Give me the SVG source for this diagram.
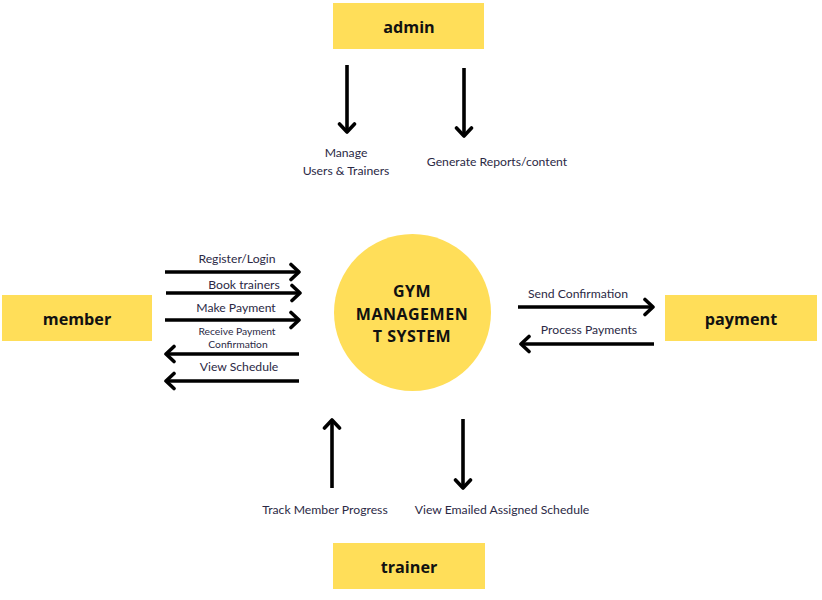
<svg xmlns="http://www.w3.org/2000/svg" width="822" height="600" viewBox="0 0 822 600">
<defs>
<marker id="ah" markerUnits="userSpaceOnUse" markerWidth="20" markerHeight="20" viewBox="-12 -10 16 20" refX="0" refY="0" orient="auto">
<polyline points="-8,-7.5 0,0 -8,7.5" fill="none" stroke="#000" stroke-width="3.6" stroke-linecap="round" stroke-linejoin="round"/>
</marker>
</defs>
<style>
.box{fill:#FFDE59}
.bl{font-family:"Open Sans","Liberation Sans",sans-serif;font-weight:bold;font-size:16.2px;fill:#111;text-anchor:middle}
.ct{font-family:"Open Sans","Liberation Sans",sans-serif;font-weight:bold;font-size:16px;fill:#111;text-anchor:middle;letter-spacing:0.5px}
.lb{font-family:Lato,"Liberation Sans",sans-serif;font-size:12.2px;fill:#2b2945;text-anchor:middle}
.sm{font-size:10.3px}
.ar{stroke:#000;stroke-width:3.6;fill:none;marker-end:url(#ah)}
</style>
<rect width="822" height="600" fill="#fff"/>
<g id="admin"><rect class="box" x="333" y="3" width="151" height="46"/><text class="bl" x="409" y="33">admin</text></g>
<g id="member"><rect class="box" x="2" y="295" width="150" height="46"/><text class="bl" x="77" y="325">member</text></g>
<g id="payment"><rect class="box" x="665" y="295" width="152" height="46"/><text class="bl" x="741" y="325">payment</text></g>
<g id="trainer"><rect class="box" x="333" y="543" width="152" height="46"/><text class="bl" x="409" y="573">trainer</text></g>
<g id="system"><circle cx="412.5" cy="312.5" r="78.5" fill="#FFDE59"/>
<text class="ct" x="412" y="297">GYM</text><text class="ct" x="412" y="320">MANAGEMEN</text><text class="ct" x="412" y="342">T SYSTEM</text></g>
<g id="connectors">
<line class="ar" x1="347" y1="65" x2="347" y2="132"/>
<line class="ar" x1="464" y1="68" x2="464" y2="136"/>
<line class="ar" x1="165" y1="272" x2="299" y2="272"/>
<line class="ar" x1="166" y1="293" x2="300" y2="293"/>
<line class="ar" x1="165" y1="320" x2="299" y2="320"/>
<line class="ar" x1="299" y1="354" x2="166" y2="354"/>
<line class="ar" x1="299" y1="381" x2="166" y2="381"/>
<line class="ar" x1="518" y1="307" x2="653" y2="307"/>
<line class="ar" x1="654" y1="344" x2="521" y2="344"/>
<line class="ar" x1="332" y1="488" x2="332" y2="420"/>
<line class="ar" x1="463" y1="419" x2="463" y2="488"/>
<g id="labels">
<text class="lb" x="346" y="157">Manage</text>
<text class="lb" x="346" y="175">Users &amp; Trainers</text>
<text class="lb" x="497" y="166">Generate Reports/content</text>
<text class="lb" x="237" y="263">Register/Login</text>
<text class="lb" x="244" y="289">Book trainers</text>
<text class="lb" x="236" y="312">Make Payment</text>
<text class="lb sm" x="237" y="335">Receive Payment</text>
<text class="lb sm" x="238" y="348">Confirmation</text>
<text class="lb" x="239" y="371">View Schedule</text>
<text class="lb" x="578" y="298">Send Confirmation</text>
<text class="lb" x="589" y="334">Process Payments</text>
<text class="lb" x="325" y="514">Track Member Progress</text>
<text class="lb" x="502" y="514">View Emailed Assigned Schedule</text>
</g>
</g>
</svg>
